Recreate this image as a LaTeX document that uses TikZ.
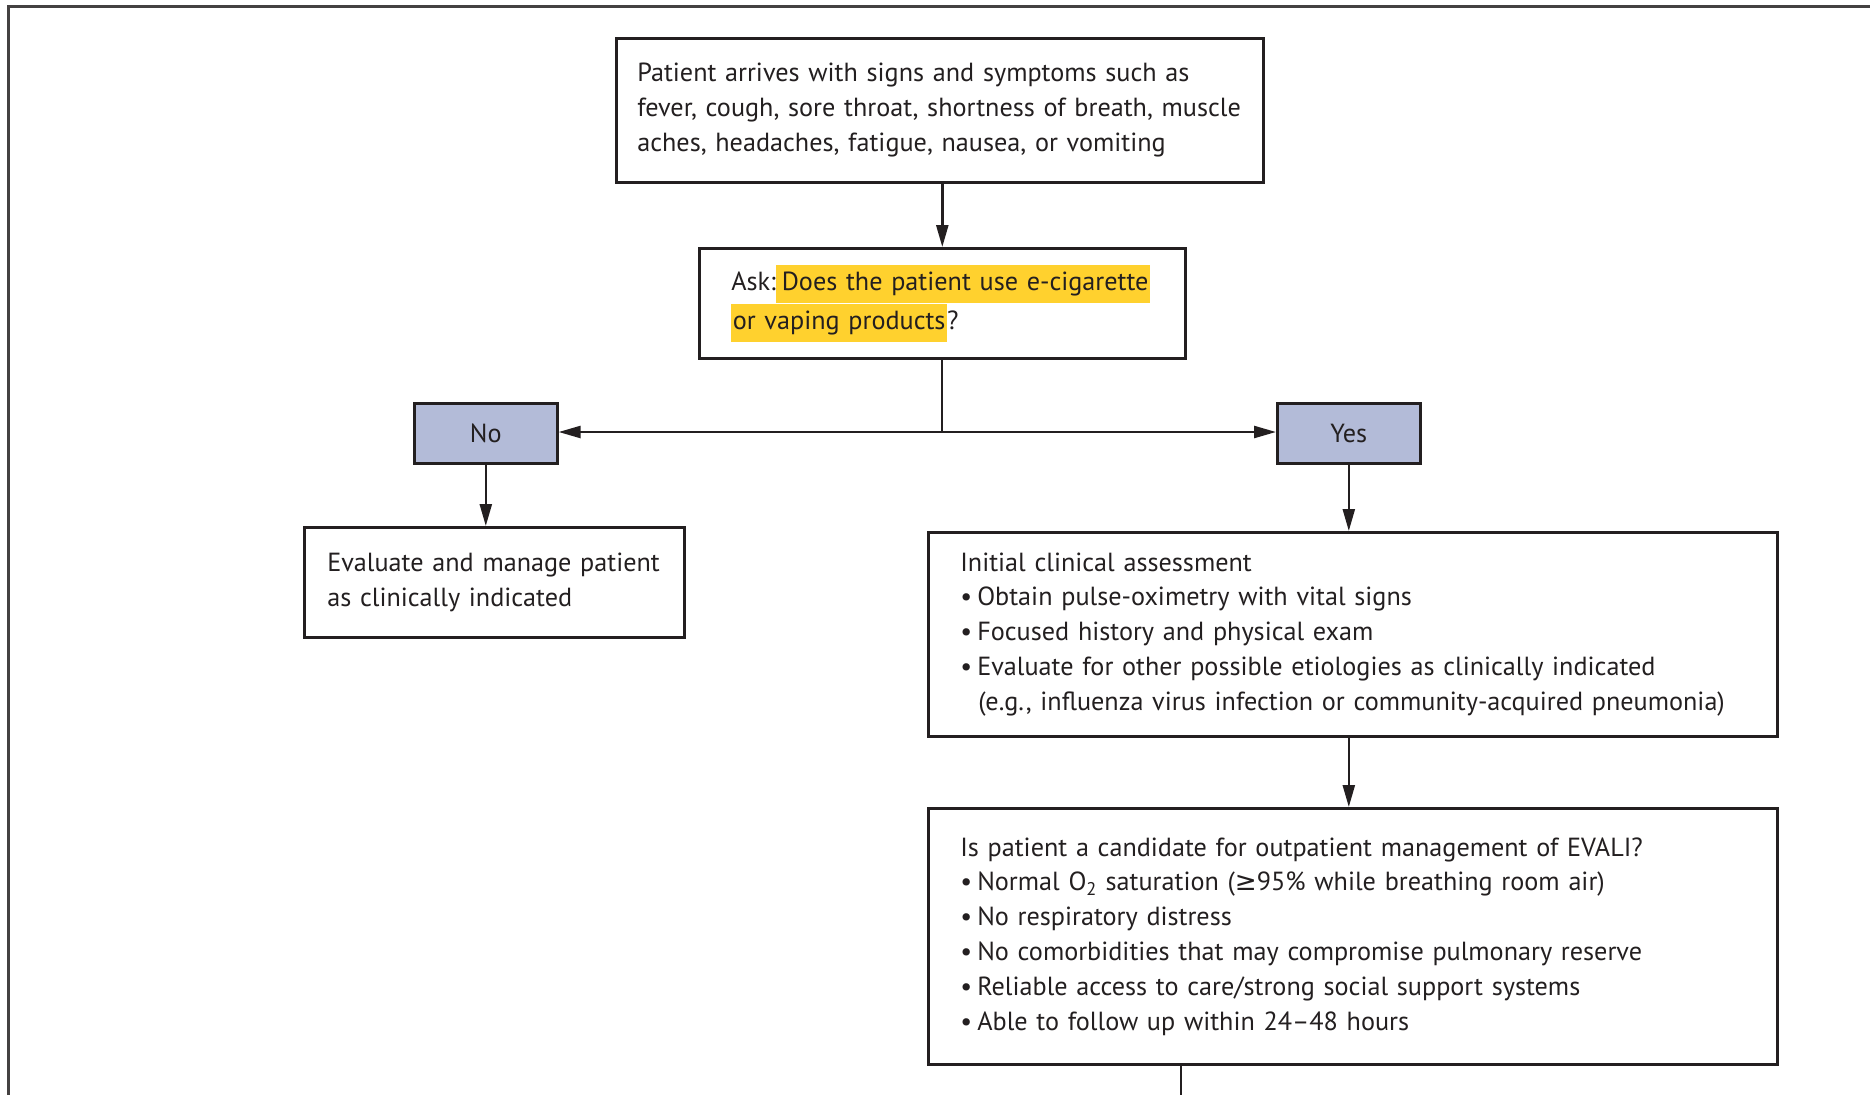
\documentclass[tikz,border=0pt]{standalone}
\usepackage{fontspec}
\setmainfont{PT Sans}
\newfontfamily\symfont{DejaVu Sans}
\usetikzlibrary{arrows.meta}
\definecolor{hl}{HTML}{FFD12E}
\definecolor{boxblue}{HTML}{B3BBD8}
\definecolor{ink}{HTML}{231F20}
\newcommand{\hlt}[1]{{\setlength{\fboxsep}{1.5pt}\colorbox{hl}{\strut #1}}}
\newcommand{\bul}{\makebox[17pt][l]{\textbullet}}
\newcommand{\cont}{\hspace*{18pt}}
\begin{document}
\begin{tikzpicture}[x=1pt,y=-1pt,
  txt/.style={font=\fontsize{26.2}{34.8}\selectfont, text=ink},
  box/.style={txt, draw=ink, line width=2.6pt, fill=white, anchor=north west, align=left, inner ysep=0pt},
  choice/.style={txt, draw=ink, line width=2.6pt, fill=boxblue, anchor=north west, align=center, inner sep=0pt, minimum width=143pt, minimum height=60pt},
  arr/.style={draw=ink, line width=2.4pt, -{Triangle[length=22pt,width=12pt]}},
  plain/.style={draw=ink, line width=2.4pt}
]
\useasboundingbox (0,0) rectangle (1870,1095);
\draw[line width=3pt, draw=ink!85] (1870,6) -- (8,6) -- (8,1095);

\node[box, text width=605pt, inner xsep=21pt, minimum height=144pt] (top) at (615,37)
 {\mbox{Patient arrives with signs and symptoms such as}\\
  \mbox{fever, cough, sore throat, shortness of breath, muscle}\\
  \mbox{aches, headaches, fatigue, nausea, or vomiting}};

\node[box, text width=422pt, inner xsep=32pt, minimum height=110pt] (ask) at (698,247)
 {Ask:\hlt{\,Does the patient use e-cigarette}\\
  \hlt{or vaping products}?};

\node[choice] (no) at (413,402) {No};
\node[choice] (yes) at (1276,402) {Yes};

\node[box, text width=334pt, inner xsep=23pt, minimum height=110pt] (eval) at (303,526)
 {\mbox{Evaluate and manage patient}\\
  as clinically indicated};

\node[box, text width=785pt, inner xsep=32pt, minimum height=204pt] (init) at (927,531)
 {Initial clinical assessment\\
  \bul Obtain pulse-oximetry with vital signs\\
  \bul Focused history and physical exam\\
  \bul Evaluate for other possible etiologies as clinically indicated\\
  \cont(e.g., influenza virus infection or community-acquired pneumonia)};

\node[box, text width=785pt, inner xsep=32pt, minimum height=256pt] (cand) at (927,807)
 {Is patient a candidate for outpatient management of EVALI?\\
  \bul Normal O\textsubscript{2} saturation ({\symfont ≥}95\% while breathing room air)\\
  \bul No respiratory distress\\
  \bul No comorbidities that may compromise pulmonary reserve\\
  \bul Reliable access to care/strong social support systems\\
  \bul Able to follow up within 24–48 hours};

\coordinate (j) at (942,432);
\coordinate (bot) at (1181,1095);

\draw[arr] (top.south -| ask.north) -- (ask.north);
\draw[plain] (ask.south -| j) -- (j);
\draw[arr] (j) -- (j -| no.east);
\draw[arr] (j) -- (j -| yes.west);
\draw[arr] (no.south) -- (no.south |- eval.north);
\draw[arr] (yes.south) -- (yes.south |- init.north);
\draw[arr] (yes.south |- init.south) -- (yes.south |- cand.north);
\draw[plain] (cand.south -| bot) -- (bot);
\end{tikzpicture}
\end{document}
